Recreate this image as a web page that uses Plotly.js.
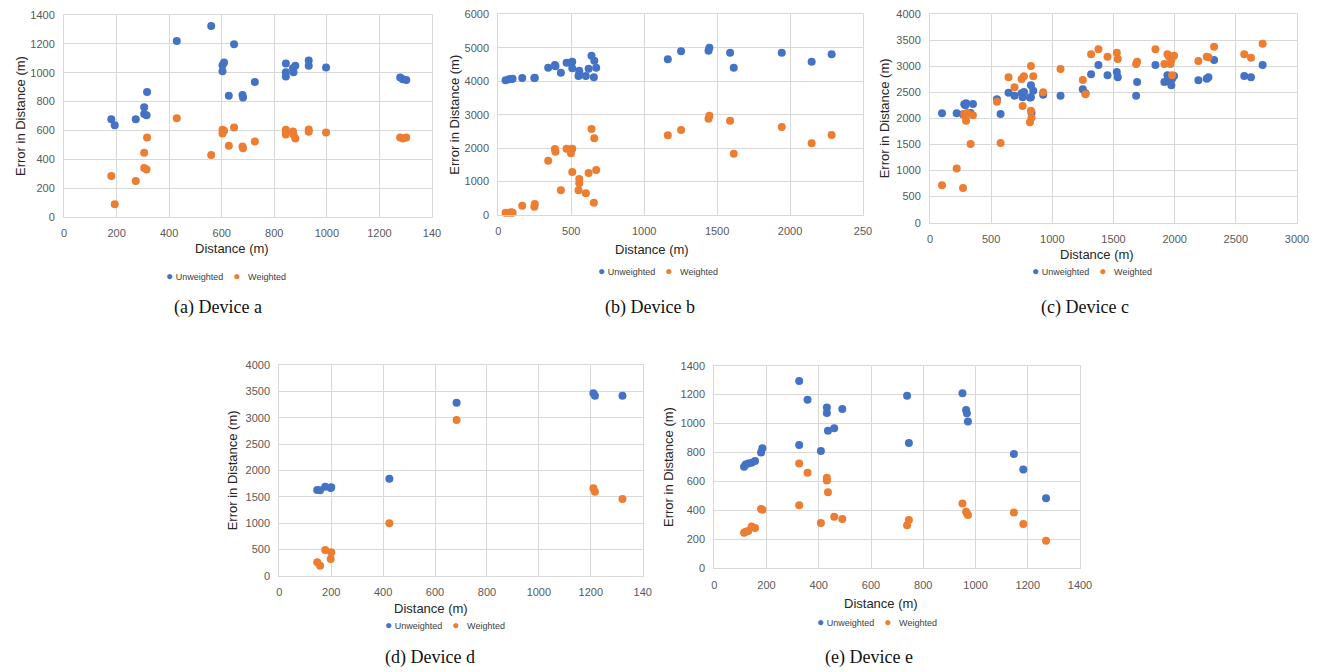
<!DOCTYPE html>
<html>
<head>
<meta charset="utf-8">
<script src="https://cdn.plot.ly/plotly-3.0.1.min.js"></script>
<style>html,body{margin:0;padding:0;background:#fff;}#chart{width:1319px;height:672px;}</style>
</head>
<body>
<div id="chart"></div>
<script>
// ---------- DATA ----------
const seriesNames = ["Unweighted", "Weighted"];
const deviceCaptions = ["(a) Device a", "(b) Device b", "(c) Device c", "(d) Device d", "(e) Device e"];

// Device a
const aDist = [180,193,273,305,305,314,316,429,560,647,603,603,609,627,679,681,726,844,844,844,873,871,880,931,931,997,1279,1289,1302];
const aUnw  = [678,636,678,761,713,706,867,1220,1324,1197,1052,1010,1070,840,846,828,936,1063,1003,973,1003,1031,1049,1084,1049,1036,966,955,950];
const aWtd  = [284,88,249,445,339,330,551,685,429,620,579,604,597,494,489,477,524,604,586,572,572,593,544,607,590,586,551,544,551];

// Device b
const bDist = [50,73,89,98,164,247,250,342,388,392,429,468,498,507,507,555,555,550,600,619,639,655,658,671,1162,1253,1441,1447,1589,1614,1943,2148,2285];
const bUnw  = [4030,4057,4067,4070,4096,4096,4100,4405,4485,4450,4256,4555,4555,4585,4385,4316,4236,4156,4156,4375,4764,4116,4615,4405,4655,4894,4914,5003,4854,4405,4854,4585,4804];
const bWtd  = [70,70,80,70,280,250,330,1625,1973,1894,738,1983,1844,1983,1286,1076,947,738,648,1256,2571,369,2292,1346,2382,2542,2880,2970,2821,1834,2631,2143,2392];

// Device c
const cDist = [98,218,270,280,289,295,305,332,351,547,577,642,691,749,757,768,817,825,825,830,844,925,1067,1249,1271,1317,1377,1451,1527,1535,1685,1693,1843,1916,1941,1954,1965,1973,1979,1995,2194,2262,2276,2322,2569,2624,2719];
const cUnw  = [2100,2100,2080,2268,2250,2288,2100,2102,2275,2364,2083,2492,2435,2480,2403,2505,2400,2633,2403,2109,2530,2454,2435,2556,2479,2844,3022,2824,2888,2786,2435,2697,3022,2697,2824,2709,2780,2633,2760,2812,2729,2760,2786,3118,2812,2786,3022];
const cWtd  = [720,1040,665,2083,2032,1955,2100,1508,2058,2320,1527,2786,2594,2754,2236,2805,1923,3003,2147,2013,2805,2498,2946,2735,2460,3227,3323,3182,3259,3137,3042,3086,3323,3042,3227,3180,3042,3118,2824,3201,3099,3182,3170,3374,3227,3163,3431];

// Device d
const dDist = [146,157,177,198,200,424,683,1210,1216,1322];
const dUnw  = [1627,1620,1690,1665,1680,1842,3285,3462,3418,3418];
const dWtd  = [253,190,487,316,443,994,2956,1658,1595,1456];

// Device e
const eDist = [114,120,130,143,156,179,184,325,357,431,431,435,459,490,325,408,738,745,950,964,967,971,1147,1183,1270];
const eUnw  = [702,718,725,730,741,801,829,1294,1165,1112,1073,951,967,1101,852,811,1193,866,1209,1094,1071,1015,790,682,484];
const eWtd  = [246,253,258,288,278,410,405,725,661,626,606,525,357,341,435,313,297,334,447,391,380,368,385,306,191];

// Tick labels (as printed in the reference; last x labels are clipped there)
const ticksA_x = ["0","200","400","600","800","1000","1200","140"];
const ticksA_xv = [0,200,400,600,800,1000,1200,1400];
const ticksB_x = ["0","500","1000","1500","2000","250"];
const ticksB_xv = [0,500,1000,1500,2000,2500];
const ticksC_x = ["0","500","1000","1500","2000","2500","3000"];
const ticksC_xv = [0,500,1000,1500,2000,2500,3000];
const ticksD_x = ["0","200","400","600","800","1000","1200","140"];
const ticksD_xv = [0,200,400,600,800,1000,1200,1400];
const ticksE_x = ["0","200","400","600","800","1000","1200","1400"];
const ticksE_xv = [0,200,400,600,800,1000,1200,1400];

const xTitle = "Distance (m)";
const yTitle = "Error in Distance (m)";

// ---------- STYLE ----------
const BLUE = "#4472C4", ORANGE = "#ED7D31";
const W = 1319, H = 672;
const px = v => v / W;
const py = v => 1 - v / H;

const devices = [
  {dist:aDist, unw:aUnw, wtd:aWtd, xr:[0,1400], yr:[0,1400], ydt:200, xv:ticksA_xv, xt:ticksA_x,
   box:[64,432,15,217], xt_c:[232,248], leg:[226,276], cap:[218,308], yt_x:20},
  {dist:bDist, unw:bUnw, wtd:bWtd, xr:[0,2500], yr:[0,6000], ydt:1000, xv:ticksB_xv, xt:ticksB_x,
   box:[498.3,863,14.3,215], xt_c:[652,249], leg:[658,271], cap:[650,308], yt_x:455},
  {dist:cDist, unw:cUnw, wtd:cWtd, xr:[0,3000], yr:[0,4000], ydt:500, xv:ticksC_xv, xt:ticksC_x,
   box:[930,1297,14,222.7], xt_c:[1097,254], leg:[1092,271], cap:[1085,308], yt_x:884},
  {dist:dDist, unw:dUnw, wtd:dWtd, xr:[0,1400], yr:[0,4000], ydt:500, xv:ticksD_xv, xt:ticksD_x,
   box:[279.3,642.7,365,575.7], xt_c:[431,608], leg:[445,625], cap:[430,657], yt_x:232},
  {dist:eDist, unw:eUnw, wtd:eWtd, xr:[0,1400], yr:[0,1400], ydt:200, xv:ticksE_xv, xt:ticksE_x,
   box:[714.3,1080,365.7,568.3], xt_c:[881,603], leg:[877,622], cap:[869,657], yt_x:668}
];

const traces = [];
const layout = {
  width: W, height: H,
  margin: {l:0, r:0, t:0, b:0},
  paper_bgcolor: "#ffffff",
  plot_bgcolor: "#ffffff",
  showlegend: false,
  annotations: [],
  font: {family: "Liberation Sans, Arial, sans-serif"}
};

const tickFont = {family: "Liberation Sans, Arial, sans-serif", size: 11, color: "#595959"};
const titleFont = {family: "Liberation Sans, Arial, sans-serif", size: 13, color: "#262626"};

devices.forEach((d, i) => {
  const n = i === 0 ? "" : String(i + 1);
  const xa = "x" + n, ya = "y" + n;
  traces.push({
    type: "scatter", mode: "markers", name: seriesNames[0],
    x: d.dist, y: d.unw, xaxis: xa, yaxis: ya,
    marker: {color: BLUE, size: 8}, cliponaxis: false
  });
  traces.push({
    type: "scatter", mode: "markers", name: seriesNames[1],
    x: d.dist, y: d.wtd, xaxis: xa, yaxis: ya,
    marker: {color: ORANGE, size: 8}, cliponaxis: false
  });
  const [x0, x1, yTop, yBot] = d.box;
  layout["xaxis" + n] = {
    domain: [px(x0), px(x1)], range: d.xr, anchor: ya,
    tickmode: "array", tickvals: d.xv, ticktext: d.xt,
    showgrid: true, gridcolor: "#D9D9D9", gridwidth: 1,
    showline: true, linecolor: "#D9D9D9", linewidth: 1, mirror: true,
    zeroline: false, ticks: "", tickfont: tickFont, ticklabelstandoff: 6,
    fixedrange: true
  };
  layout["yaxis" + n] = {
    domain: [py(yBot), py(yTop)], range: d.yr, anchor: xa,
    dtick: d.ydt, tick0: 0,
    showgrid: true, gridcolor: "#D9D9D9", gridwidth: 1,
    showline: true, linecolor: "#D9D9D9", linewidth: 1, mirror: true,
    zeroline: false, ticks: "", tickfont: tickFont, ticklabelstandoff: 6,
    fixedrange: true
  };
  // axis titles
  layout.annotations.push({
    xref: "paper", yref: "paper", x: px(d.xt_c[0]), y: py(d.xt_c[1]),
    text: xTitle, showarrow: false, font: titleFont, xanchor: "center", yanchor: "middle"
  });
  layout.annotations.push({
    xref: "paper", yref: "paper", x: px(d.yt_x), y: py((yTop + yBot) / 2),
    text: yTitle, textangle: -90, showarrow: false, font: titleFont, xanchor: "center", yanchor: "middle"
  });
  // legend
  layout.annotations.push({
    xref: "paper", yref: "paper", x: px(d.leg[0]), y: py(d.leg[1]),
    text: '<span style="color:' + BLUE + ';font-size:12px">●</span> ' + seriesNames[0] +
          '&nbsp;&nbsp;&nbsp;&nbsp;<span style="color:' + ORANGE + ';font-size:12px">●</span>&nbsp;&nbsp;&nbsp;' + seriesNames[1],
    showarrow: false, font: {family: "Liberation Sans, Arial, sans-serif", size: 9, color: "#404040"},
    xanchor: "center", yanchor: "middle"
  });
  // caption
  layout.annotations.push({
    xref: "paper", yref: "paper", x: px(d.cap[0]), y: py(d.cap[1]),
    text: deviceCaptions[i], showarrow: false,
    font: {family: "Liberation Serif, Times New Roman, serif", size: 18, color: "#111111"},
    xanchor: "center", yanchor: "middle"
  });
});

Plotly.newPlot("chart", traces, layout, {staticPlot: true, displayModeBar: false});
</script>
</body>
</html>
